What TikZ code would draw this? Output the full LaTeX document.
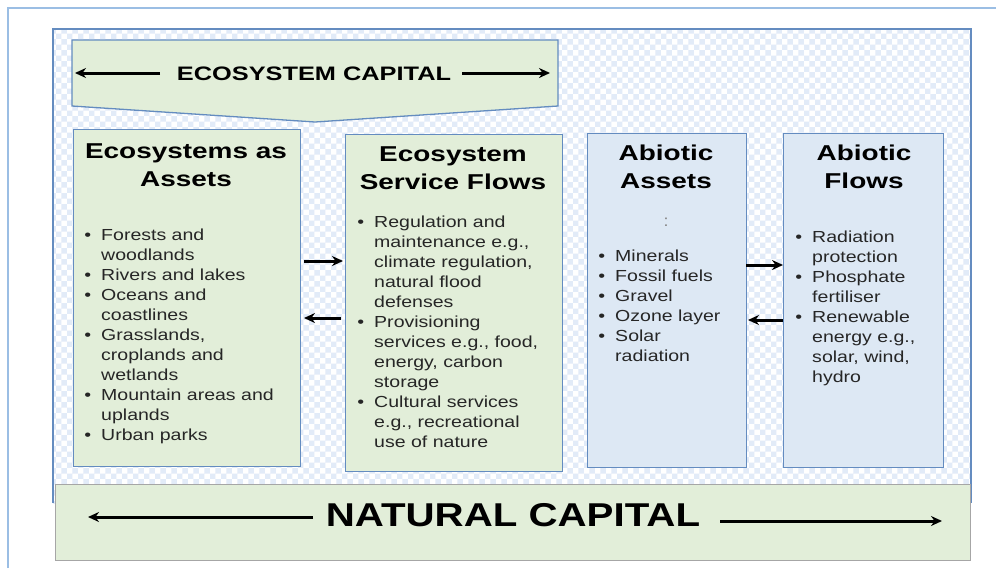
\documentclass[tikz,border=0pt]{standalone}
\usepackage{fontspec}
\setmainfont[FakeStretch=1.22]{Liberation Sans}
\newfontfamily\headfont[FakeStretch=1.3]{Liberation Sans}
\usepackage{tikz}
\usetikzlibrary{arrows.meta}
\usetikzlibrary{patterns}
\definecolor{boxgreen}{RGB}{226,238,217}
\definecolor{boxblue}{RGB}{221,232,244}
\definecolor{boxline}{RGB}{100,140,192}
\definecolor{frameblue}{RGB}{155,190,228}
\definecolor{checkblue}{RGB}{226,235,248}
\definecolor{textgray}{RGB}{38,38,38}
\tikzset{
every picture/.style={line width=0.8pt, >={Stealth[length=11pt,width=10pt]}},
%%%%%%%%%%  Box styles
greenbox/.style={draw=boxline, fill=boxgreen, line width=1.3pt,
                 anchor=north west, inner sep=0pt},
bluebox/.style={draw=boxline, fill=boxblue, line width=1.3pt,
                anchor=north west, inner sep=0pt},
capitalbox/.style={draw=black!35, fill=boxgreen, line width=1.3pt,
                   anchor=north west, inner sep=0pt},
%%%%%%%%%%  Text styles
heading/.style={font=\headfont\bfseries\fontsize{21.5}{28}\selectfont,
                align=center, inner sep=0pt, anchor=north},
itemlist/.style={font=\fontsize{16}{20}\selectfont, text=textgray,
                 anchor=north west, inner sep=0pt},
%%%%%%%%%%  Arrows
fat_arrow/.style={->, line width=3pt},
}
%% bullet lists, one row per printed line
\newcommand{\blist}[1]{\begin{tabular}{@{}l@{\hspace{10pt}}l@{}}#1\end{tabular}}
\newcommand{\bl}{\textbullet}

\begin{document}
\begin{tikzpicture}[x=1pt,y=-1pt]
\useasboundingbox (0,0) rectangle (996,568);
%% outer frame
\coordinate (fr_bl) at (8,568);
\coordinate (fr_tl) at (8,8);
\coordinate (fr_tr) at (996,8);
\draw[frameblue, line width=2pt] (fr_bl) -- (fr_tl) -- (fr_tr);
%% checked background
\fill[white] (53,29) rectangle (971,503);
\fill[pattern=checkerboard, pattern color=checkblue] (53,29) rectangle (971,503);
\draw[boxline, line width=1.3pt] (53,503) -- (53,29) -- (971,29) -- (971,503);
%%%%%%%%%%%%%%%%%%%%%%%%%%%%%%%%%%%%%%%%%%%%%%
%% ecosystem capital banner
\draw[draw=boxline, fill=boxgreen, line width=1.3pt]
  (72,40) -- (558,40) -- (558,106) -- (315,122) -- (72,106) -- cycle;
\node[font=\headfont\bfseries\fontsize{19.5}{20}\selectfont, inner sep=0pt]
  (ecocap) at (314,74) {ECOSYSTEM CAPITAL};
\coordinate (eco_l1) at (160,73);
\coordinate (eco_l2) at (75,73);
\coordinate (eco_r1) at (462,73);
\coordinate (eco_r2) at (550,73);
\draw[fat_arrow] (eco_l1) -- (eco_l2);
\draw[fat_arrow] (eco_r1) -- (eco_r2);
%%%%%%%%%%%%%%%%%%%%%%%%%%%%%%%%%%%%%%%%%%%%%%
%% the four boxes
\node[greenbox, minimum width=227pt, minimum height=337pt] (assets) at (73,129) {};
\node[greenbox, minimum width=217pt, minimum height=337pt] (services) at (345,134) {};
\node[bluebox, minimum width=159pt, minimum height=334pt] (abassets) at (587,133) {};
\node[bluebox, minimum width=160pt, minimum height=334pt] (abflows) at (783,133) {};
%% headings
\node[heading] (assets_h) at (186,143) {Ecosystems as\\Assets};
\node[heading] (services_h) at (453,146) {Ecosystem\\Service Flows};
\node[heading] (abassets_h) at (666,145) {Abiotic\\Assets};
\node[heading] (abflows_h) at (864,145) {Abiotic\\Flows};
%% lists
\node[itemlist] (assets_l) at (84,226) {\blist{
  \bl & Forests and\\
      & woodlands\\
  \bl & Rivers and lakes\\
  \bl & Oceans and\\
      & coastlines\\
  \bl & Grasslands,\\
      & croplands and\\
      & wetlands\\
  \bl & Mountain areas and\\
      & uplands\\
  \bl & Urban parks}};
\node[itemlist] (services_l) at (357,213) {\blist{
  \bl & Regulation and\\
      & maintenance e.g.,\\
      & climate regulation,\\
      & natural flood\\
      & defenses\\
  \bl & Provisioning\\
      & services e.g., food,\\
      & energy, carbon\\
      & storage\\
  \bl & Cultural services\\
      & e.g., recreational\\
      & use of nature}};
\node[font=\fontsize{16}{20}\selectfont, text=black!45, inner sep=0pt] (colon) at (666,222) {:};
\node[itemlist] (abassets_l) at (598,247) {\blist{
  \bl & Minerals\\
  \bl & Fossil fuels\\
  \bl & Gravel\\
  \bl & Ozone layer\\
  \bl & Solar\\
      & radiation}};
\node[itemlist] (abflows_l) at (795,228) {\blist{
  \bl & Radiation\\
      & protection\\
  \bl & Phosphate\\
      & fertiliser\\
  \bl & Renewable\\
      & energy e.g.,\\
      & solar, wind,\\
      & hydro}};
%% arrows between the boxes
\coordinate (as_out) at (304,261);
\coordinate (sv_in) at (343,261);
\coordinate (sv_out) at (341,318);
\coordinate (as_in) at (304,318);
\draw[fat_arrow] (as_out) -- (sv_in);
\draw[fat_arrow] (sv_out) -- (as_in);
\coordinate (ab_out) at (746,265);
\coordinate (fl_in) at (783,265);
\coordinate (fl_out) at (783,320);
\coordinate (ab_in) at (748,320);
\draw[fat_arrow] (ab_out) -- (fl_in);
\draw[fat_arrow] (fl_out) -- (ab_in);
%%%%%%%%%%%%%%%%%%%%%%%%%%%%%%%%%%%%%%%%%%%%%%
%% natural capital
\node[capitalbox, minimum width=915pt, minimum height=76pt] (natural) at (55,484) {};
\node[font=\bfseries\fontsize{33}{36}\selectfont, inner sep=0pt] (natcap) at (513,515) {NATURAL CAPITAL};
\coordinate (nat_l1) at (313,517);
\coordinate (nat_l2) at (88,517);
\coordinate (nat_r1) at (720,521);
\coordinate (nat_r2) at (942,521);
\draw[fat_arrow] (nat_l1) -- (nat_l2);
\draw[fat_arrow] (nat_r1) -- (nat_r2);
\end{tikzpicture}
\end{document}
